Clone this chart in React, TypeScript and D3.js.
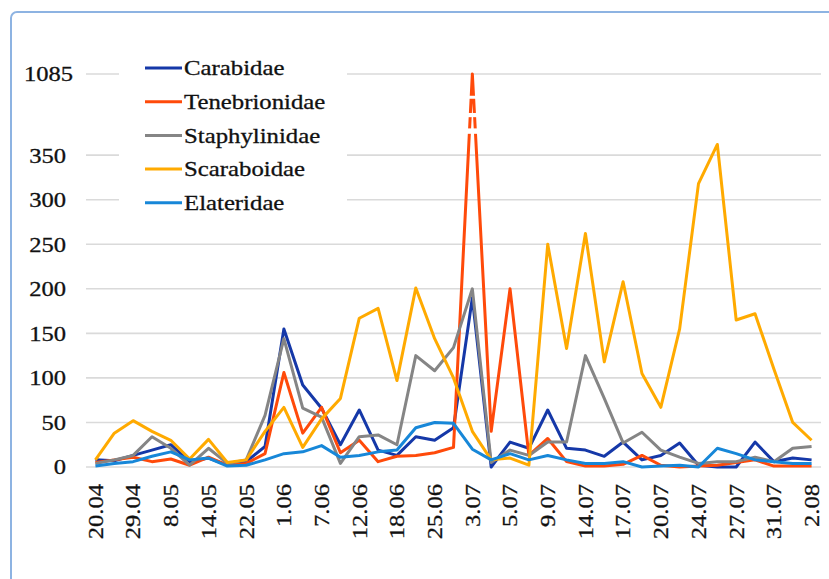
import * as d3 from "d3";

// dates shown under every second point (Excel skips the others)
const tickLabels = ["20.04", "29.04", "8.05", "14.05", "22.05", "1.06", "7.06", "12.06", "18.06", "25.06",
  "3.07", "5.07", "9.07", "14.07", "17.07", "20.07", "24.07", "27.07", "31.07", "2.08"];

const carabidae = [8, 7, 13, 19, 25, 6, 10, 2, 6, 23, 155, 92, 66, 25, 64, 19, 13, 34, 30, 44,
  190, 0, 28, 21, 64, 21, 19, 12, 28, 8, 13, 27, 2, 0, 0, 28, 6, 10, 8];
const tenebrionidae = [5, 8, 11, 6, 9, 2, 11, 2, 4, 15, 106, 38, 67, 16, 30, 6, 12, 13, 16, 22,
  1085, 40, 200, 13, 32, 6, 1, 1, 3, 13, 2, 0, 1, 2, 5, 8, 1, 1, 1];
const staphylinidae = [4, 8, 13, 34, 21, 2, 21, 4, 8, 58, 144, 66, 56, 4, 34, 36, 25, 125, 108, 134,
  200, 5, 19, 13, 28, 28, 125, 77, 27, 39, 19, 11, 4, 6, 6, 11, 6, 21, 23];
const scaraboidae = [8, 38, 52, 40, 30, 9, 31, 5, 8, 40, 67, 22, 54, 77, 167, 178, 97, 201, 144, 100,
  40, 8, 10, 2, 250, 133, 262, 118, 208, 105, 67, 155, 318, 362, 165, 172, 110, 50, 30];
const elateridae = [1, 4, 6, 12, 17, 8, 10, 1, 2, 8, 15, 17, 24, 11, 13, 17, 19, 44, 50, 49,
  20, 8, 15, 8, 13, 8, 4, 4, 6, 0, 1, 2, 0, 21, 15, 8, 6, 4, 4];

const seriesNames = ["Carabidae", "Tenebrionidae", "Staphylinidae", "Scaraboidae", "Elateridae"];
const seriesValues = [carabidae, tenebrionidae, staphylinidae, scaraboidae, elateridae];
const seriesColors = ["#1538a8", "#ff4a0a", "#858585", "#ffaa00", "#1787d8"];

const yTicks = [0, 50, 100, 150, 200, 250, 300, 350, 1085];
// values where the tall spike is broken by white gaps
const breakGaps = [415, 395, 377];

const W = 829, H = 579;
const FONT = "Liberation Serif";

export default function App() {
  const n = carabidae.length;
  const x = d3.scaleBand<number>().domain(d3.range(n)).range([86, 821]);
  const cx = (i: number) => (x(i) as number) + x.bandwidth() / 2;
  // broken axis: linear up to 420, then squeezed up to 1085
  const y = d3.scaleLinear().domain([0, 420, 1085]).range([467, 92.8, 74]);
  const line = d3.line<number>().x((_, i) => cx(i)).y(d => y(d));

  const peakIdx = tenebrionidae.indexOf(d3.max(tenebrionidae) as number);

  return (
    <svg width={W} height={H} style={{ position: "absolute", left: 0, top: 0, background: "#fff" }}>
      <rect x={11} y={12} width={900} height={700} rx={6} fill="#fff" stroke="#8db3e2" strokeWidth={2} />

      {yTicks.map(t => (
        <line key={t} x1={86} x2={821} y1={y(t)} y2={y(t)} stroke="#dadada" strokeWidth={1.6} />
      ))}

      {yTicks.map(t => (
        <text key={t} fontFamily={FONT} transform={`translate(${t === 1085 ? 73 : 66},${y(t)}) scale(1.17,1)`}
          textAnchor="end" dy="0.35em" fontSize={21} fill="#111" stroke="#111" strokeWidth={0.3}>{t}</text>
      ))}

      {tickLabels.map((lab, k) => (
        <text key={lab} fontFamily={FONT} transform={`translate(${cx(k * 2)},484) rotate(-90) scale(1.17,1)`}
          textAnchor="end" dy="0.35em" fontSize={21} fill="#111" stroke="#111" strokeWidth={0.3}>{lab}</text>
      ))}

      {seriesValues.map((vals, s) => (
        <path key={seriesNames[s]} d={line(vals) as string} fill="none" stroke={seriesColors[s]}
          strokeWidth={3} strokeLinejoin="round" />
      ))}

      {breakGaps.map((v, k) => (
        <rect key={v} x={cx(peakIdx) - 6} y={y(v) - (1.5 + k * 0.6)} width={12} height={3 + k * 1.2} fill="#fff" />
      ))}

      <rect x={119} y={52} width={228} height={168} fill="#fff" />
      {seriesNames.map((name, s) => {
        const ly = 68 + s * 33.7;
        return (
          <g key={name}>
            <line x1={145} x2={182} y1={ly} y2={ly} stroke={seriesColors[s]} strokeWidth={3} />
            <text fontFamily={FONT} transform={`translate(184,${ly}) scale(1.18,1)`} dy="0.35em" fontSize={21}
              fill="#111" stroke="#111" strokeWidth={0.3}>{name}</text>
          </g>
        );
      })}
    </svg>
  );
}
